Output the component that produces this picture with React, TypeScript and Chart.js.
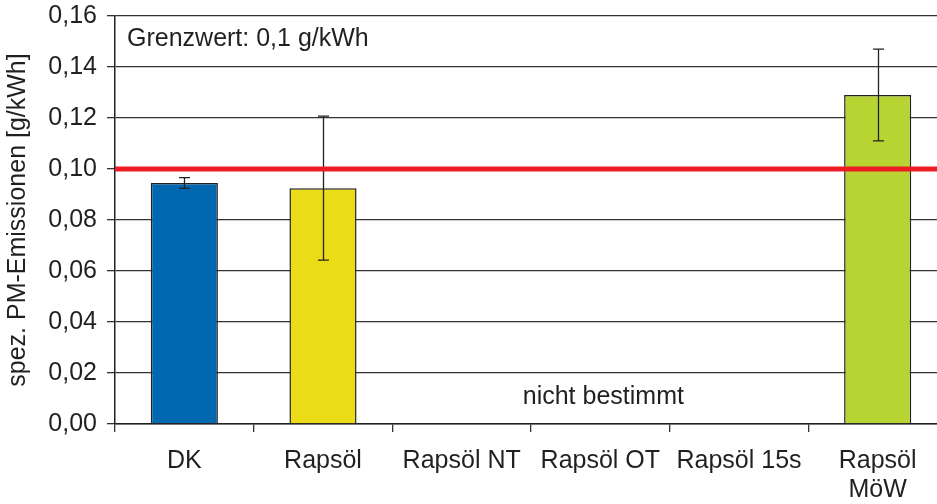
import React, { useEffect, useRef } from "react";
import { Chart, registerables } from "chart.js";

Chart.register(...registerables);

const categories: (string | string[])[] = [
  "DK",
  "Rapsöl",
  "Rapsöl NT",
  "Rapsöl OT",
  "Rapsöl 15s",
  ["Rapsöl", "MöW"],
];
const values: (number | null)[] = [0.0945, 0.0925, null, null, null, 0.129];
const errors: (number | null)[] = [0.0021, 0.0282, null, null, null, 0.018];
const limitValue = 0.1;
const limitLabel = "Grenzwert: 0,1 g/kWh";
const noteLabel = "nicht bestimmt";
const yTitle = "spez. PM-Emissionen [g/kWh]";
const yMin = 0;
const yMax = 0.16;
const yStep = 0.02;

const FONT = "'Liberation Sans', Arial, Helvetica, sans-serif";
const TEXT = "#231f20";

const overlayPlugin = {
  id: "overlay",
  afterDatasetsDraw(chart: any) {
    const { ctx, chartArea, scales } = chart;
    const x = scales.x;
    const y = scales.y;
    const meta = chart.getDatasetMeta(0);
    ctx.save();
    // error bars
    ctx.strokeStyle = "#222";
    ctx.lineWidth = 1.3;
    meta.data.forEach((bar: any, i: number) => {
      const v = values[i];
      const e = errors[i];
      if (v == null || e == null) return;
      const cx = Math.round(bar.x) + 0.5;
      const top = y.getPixelForValue(v + e);
      const bot = y.getPixelForValue(v - e);
      ctx.beginPath();
      ctx.moveTo(cx, top);
      ctx.lineTo(cx, bot);
      ctx.moveTo(cx - 5.5, top);
      ctx.lineTo(cx + 5.5, top);
      ctx.moveTo(cx - 5.5, bot);
      ctx.lineTo(cx + 5.5, bot);
      ctx.stroke();
    });
    // limit line
    const ly = y.getPixelForValue(limitValue);
    ctx.strokeStyle = "#ED1C24";
    ctx.lineWidth = 5;
    ctx.beginPath();
    ctx.moveTo(chartArea.left, ly);
    ctx.lineTo(chartArea.right, ly);
    ctx.stroke();
    // texts
    ctx.fillStyle = TEXT;
    ctx.font = `25px ${FONT}`;
    ctx.textBaseline = "alphabetic";
    ctx.textAlign = "left";
    ctx.fillText(limitLabel, chartArea.left + 12, chartArea.top + 30);
    ctx.textAlign = "center";
    const nx = (x.getPixelForValue(2) + x.getPixelForValue(4)) / 2;
    ctx.fillText(noteLabel, nx + 3, chartArea.bottom - 20);
    ctx.restore();
  },
};

export default function App() {
  const canvasRef = useRef<HTMLCanvasElement>(null);

  useEffect(() => {
    const canvas = canvasRef.current;
    if (!canvas) return;
    const chart = new Chart(canvas, {
      type: "bar",
      data: {
        labels: categories as any,
        datasets: [
          {
            data: values as any,
            backgroundColor: ["#0067B1", "#EADD17", "transparent", "transparent", "transparent", "#B8D433"],
            borderColor: "#222222",
            borderWidth: 1.5,
            barPercentage: 0.484,
            categoryPercentage: 1,
          },
        ],
      },
      options: {
        responsive: false,
        animation: false,
        devicePixelRatio: 1,
        layout: { padding: { top: 16, left: 0, right: 0, bottom: 0 } },
        plugins: {
          legend: { display: false },
          tooltip: { enabled: false },
          title: { display: false },
        },
        scales: {
          x: {
            type: "category",
            offset: true,
            grid: {
              offset: true,
              drawOnChartArea: false,
              drawTicks: true,
              tickLength: 8,
              color: "#333333",
              lineWidth: 1.3,
            },
            border: { display: true, color: "#222222", width: 1.5 },
            ticks: {
              color: TEXT,
              font: { family: FONT, size: 25, lineHeight: 1.15 },
              padding: 15,
              maxRotation: 0,
              autoSkip: false,
            },
            afterFit: (scale: any) => {
              scale.height = 80;
              scale.paddingLeft = 0;
              scale.paddingRight = 0;
            },
          },
          y: {
            type: "linear",
            min: yMin,
            max: yMax,
            grid: {
              color: "#333333",
              lineWidth: 1.3,
              drawTicks: true,
              tickLength: 8,
            },
            border: { display: true, color: "#222222", width: 1.5 },
            ticks: {
              stepSize: yStep,
              color: TEXT,
              font: { family: FONT, size: 25 },
              padding: 10,
              callback: (v: any) => Number(v).toFixed(2).replace(".", ","),
            },
            title: {
              display: true,
              text: yTitle,
              color: TEXT,
              font: { family: FONT, size: 25, lineHeight: 1.2 },
              padding: { top: 3, bottom: 0 },
            },
            afterFit: (scale: any) => {
              scale.width = 115;
              scale.paddingTop = 0;
              scale.paddingBottom = 0;
            },
          },
        },
      },
      plugins: [overlayPlugin],
    });
    return () => chart.destroy();
  }, []);

  return (
    <div
      style={{
        position: "fixed",
        left: 0,
        top: 0,
        width: 937,
        height: 504,
        overflow: "hidden",
        background: "#ffffff",
      }}
    >
      <canvas ref={canvasRef} width={947} height={504} style={{ display: "block" }} />
    </div>
  );
}
